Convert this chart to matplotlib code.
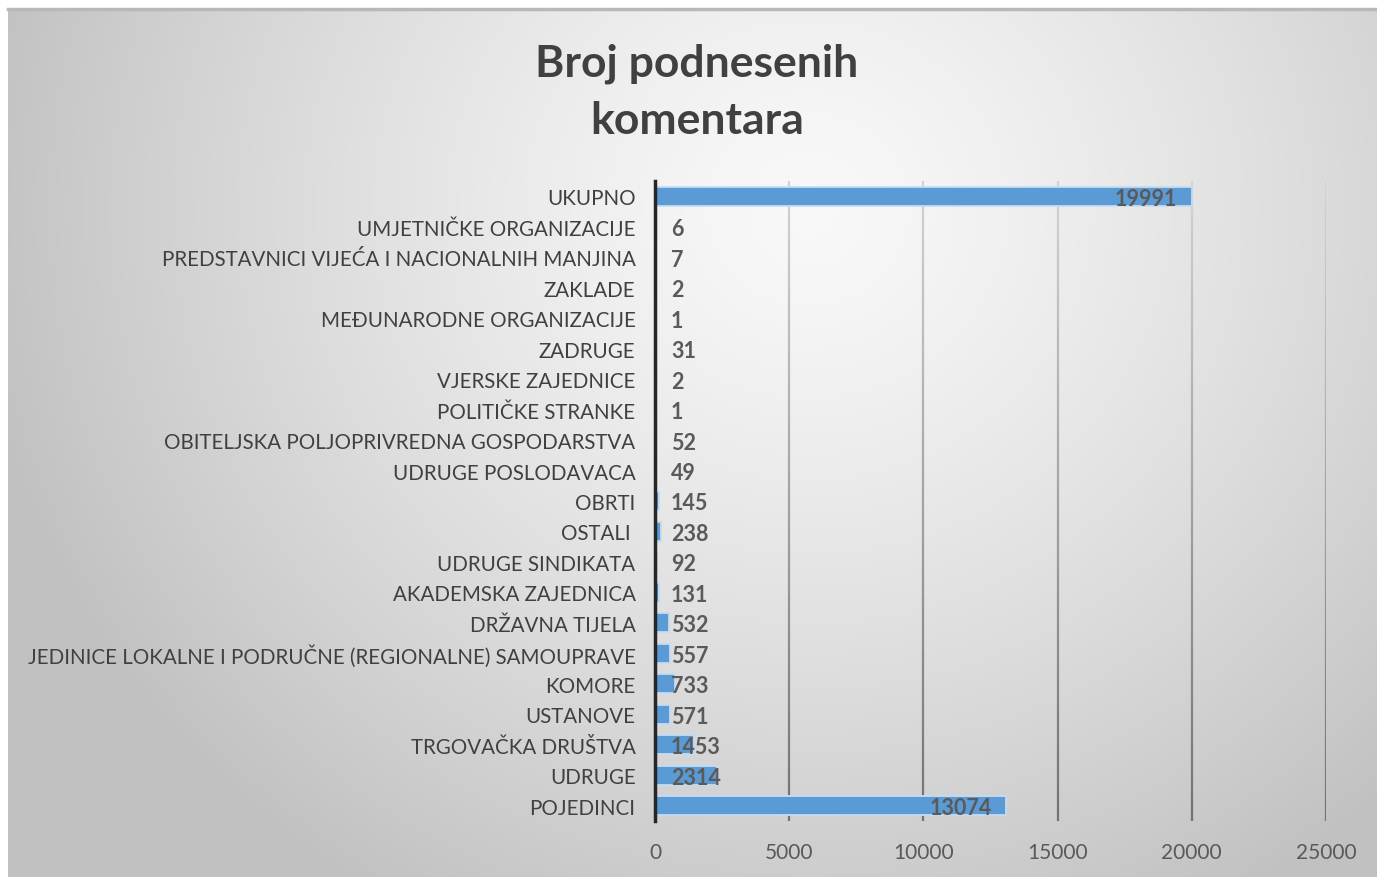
import numpy as np
import matplotlib
matplotlib.use("Agg")
import matplotlib.pyplot as plt

plt.rcParams['font.family'] = ['Lato', 'DejaVu Sans']

categories = [
    "UKUPNO",
    "UMJETNIČKE ORGANIZACIJE",
    "PREDSTAVNICI VIJEĆA I NACIONALNIH MANJINA",
    "ZAKLADE",
    "MEĐUNARODNE ORGANIZACIJE",
    "ZADRUGE",
    "VJERSKE ZAJEDNICE",
    "POLITIČKE STRANKE",
    "OBITELJSKA POLJOPRIVREDNA GOSPODARSTVA",
    "UDRUGE POSLODAVACA",
    "OBRTI",
    "OSTALI ",
    "UDRUGE SINDIKATA",
    "AKADEMSKA ZAJEDNICA",
    "DRŽAVNA TIJELA",
    "JEDINICE LOKALNE I PODRUČNE (REGIONALNE) SAMOUPRAVE",
    "KOMORE",
    "USTANOVE",
    "TRGOVAČKA DRUŠTVA",
    "UDRUGE",
    "POJEDINCI",
]
values = [19991, 6, 7, 2, 1, 31, 2, 1, 52, 49, 145, 238, 92, 131, 532, 557, 733, 571, 1453, 2314, 13074]
xticks = [0, 5000, 10000, 15000, 20000, 25000]
title = "Broj podnesenih\nkomentara"

W, H = 1377, 878
fig = plt.figure(figsize=(W / 100, H / 100), dpi=100)

# background gradient panel
bg = fig.add_axes([8 / W, 0, 1 - 8 / W, 1 - 10 / H])
bg.set_axis_off()
yy, xx = np.mgrid[0:868, 0:1369]
cx, cy = 800, 200
d = np.sqrt(((xx - cx) / 820.0) ** 2 + ((yy - cy) / 780.0) ** 2)
g = np.clip(0.975 - 0.21 * d ** 1.3, 0.76, 0.98)
bg.imshow(np.dstack([g, g, g]), aspect='auto', extent=[0, 1, 0, 1], origin='upper')
bg.set_xlim(0, 1)
bg.set_ylim(0, 1)
fig.add_artist(plt.Line2D([8 / W, 1], [1 - 10 / H, 1 - 10 / H], color='#b8b8b8', lw=2.5,
                          transform=fig.transFigure))

ax = fig.add_axes([655 / W, 1 - 822 / H, (1326 - 655) / W, (822 - 182) / H])
ax.patch.set_alpha(0)
ypos = np.arange(len(categories))
ax.set_xlim(0, 25000)
ax.set_ylim(len(categories) - 0.5, -0.5)

# gradient gridlines (lighter at top)
nseg = 60
for xt in xticks[1:]:
    ys = np.linspace(len(categories) - 0.5, -0.5, nseg + 1)
    for i in range(nseg):
        t = i / nseg
        c = 0.45 + 0.38 * t
        ax.plot([xt, xt], [ys[i], ys[i + 1]], color=(c, c, c), lw=1.6, zorder=1,
                solid_capstyle='butt')

ax.barh(ypos, values, height=0.62, color='#5b9bd5', edgecolor='#c5dcf0', linewidth=1.3, zorder=2)

for y, v in zip(ypos, values):
    if v > 5000:
        ax.annotate(str(v), (v, y), xytext=(-14, -2), textcoords='offset pixels',
                    ha='right', va='center', fontsize=15.5, fontweight='bold', color='#5a5a5a', zorder=3)
    else:
        ax.annotate(str(v), (0, y), xytext=(16, -2), textcoords='offset pixels',
                    ha='left', va='center', fontsize=15.5, fontweight='bold', color='#5a5a5a', zorder=3)

ax.set_yticks(ypos)
ax.set_yticklabels(categories, fontsize=14.8, color='#404040')
ax.set_xticks(xticks)
ax.set_xticklabels([str(x) for x in xticks], fontsize=15, color='#595959')
ax.tick_params(axis='y', length=0, pad=14)
ax.tick_params(axis='x', length=0, pad=15)
for s in ['top', 'right', 'bottom']:
    ax.spines[s].set_visible(False)
ax.spines['left'].set_color('#262626')
ax.spines['left'].set_linewidth(2.5)
ax.spines['left'].set_zorder(4)

fig.text(0.506, 1 - 92 / H, title, ha='center', va='center', fontsize=32, fontweight='bold',
         color='#404040', linespacing=1.5)

fig.savefig('out.png', dpi=100)
